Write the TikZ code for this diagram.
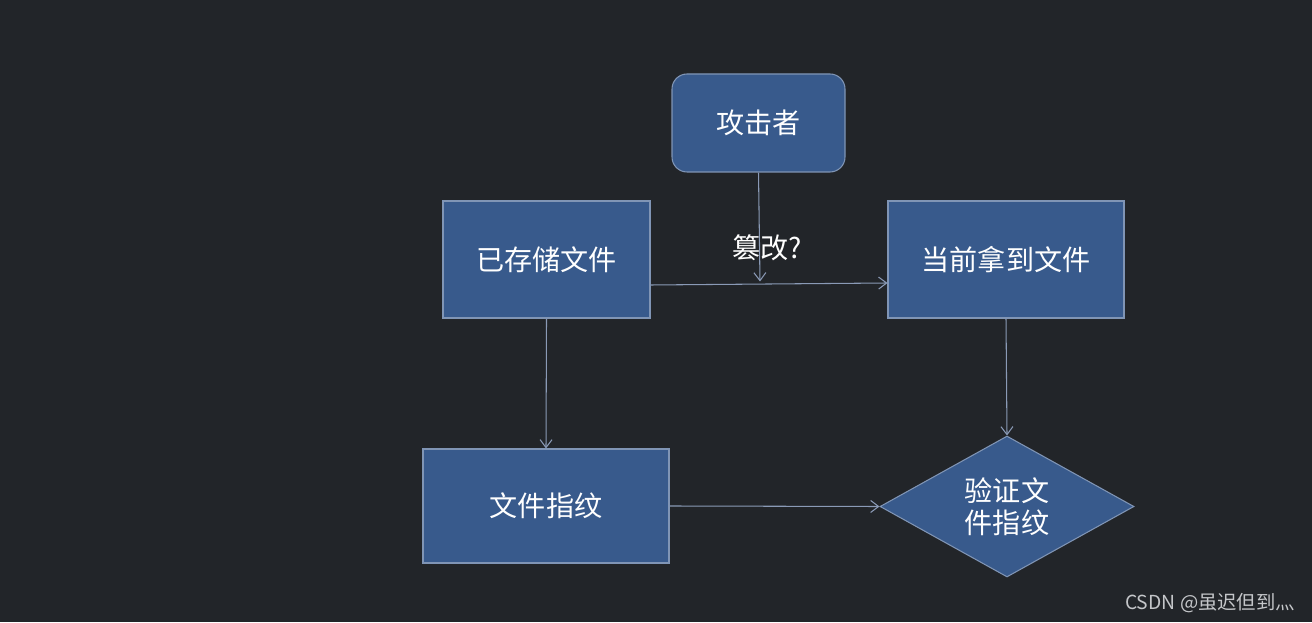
\documentclass[tikz,border=0pt]{standalone}
\usepackage{fontspec}
\usepackage{tikz}
\usetikzlibrary{positioning}
\usetikzlibrary{shapes.geometric}
\usetikzlibrary{arrows.meta}
\usepackage{xcolor}

\setmainfont{Noto Sans CJK SC}
\definecolor{bgdark}{HTML}{222529}
\definecolor{boxblue}{HTML}{385A8C}
\definecolor{boxedge}{HTML}{8095B5}
\definecolor{linkgray}{HTML}{8A9AB6}
\definecolor{markgray}{HTML}{C4C6C9}

\begin{document}
\begin{tikzpicture}[
    box/.style={draw=boxedge, fill=boxblue, line width=0.6pt, text=white,
        font=\fontsize{16}{18}\selectfont, inner sep=0pt},
    link/.style={draw=linkgray, line width=0.6pt,
        -{Straight Barb[length=1.6mm, width=2.4mm]}}
]

\fill[bgdark] (0,0) rectangle (26.24,12.44);
\useasboundingbox (0,0) rectangle (26.24,12.44);

% boxes
\node[box, rounded corners=0.3cm, minimum width=3.46cm, minimum height=1.96cm] (attacker) at (15.17,9.98) {攻击者};

\node[box, minimum width=4.14cm, minimum height=2.34cm] (stored) at (10.93,7.25) {已存储文件};
\node[box, minimum width=4.72cm, minimum height=2.34cm] (current) at (20.12,7.25) {当前拿到文件};

\node[box, minimum width=4.92cm, minimum height=2.28cm] (print) at (10.92,2.32) {文件指纹};
\node[box, diamond, aspect=1.8, minimum width=5.08cm, minimum height=2.82cm, align=center,
    font=\fontsize{16}{18.5}\selectfont] (check) at (20.14,2.31) {验证文\\件指纹};

% links
\coordinate (hit) at (15.2,6.81);

\draw[link] ([yshift=-0.51cm]stored.east) -- ([yshift=-0.47cm]current.west);
\draw[link] (attacker.south) -- (hit);
\draw[link] (stored.south) -- (print.north);
\draw[link] (current.south) -- (check.north);
\draw[link] (print.east) -- (check.west);

\node[text=white, font=\fontsize{16}{18}\selectfont] (tamper) at (15.34,7.48) {篡改?};

\node[text=markgray, font=\fontsize{11}{13}\selectfont] (mark) at (24.2,0.38) {CSDN @虽迟但到灬};

\end{tikzpicture}
\end{document}
